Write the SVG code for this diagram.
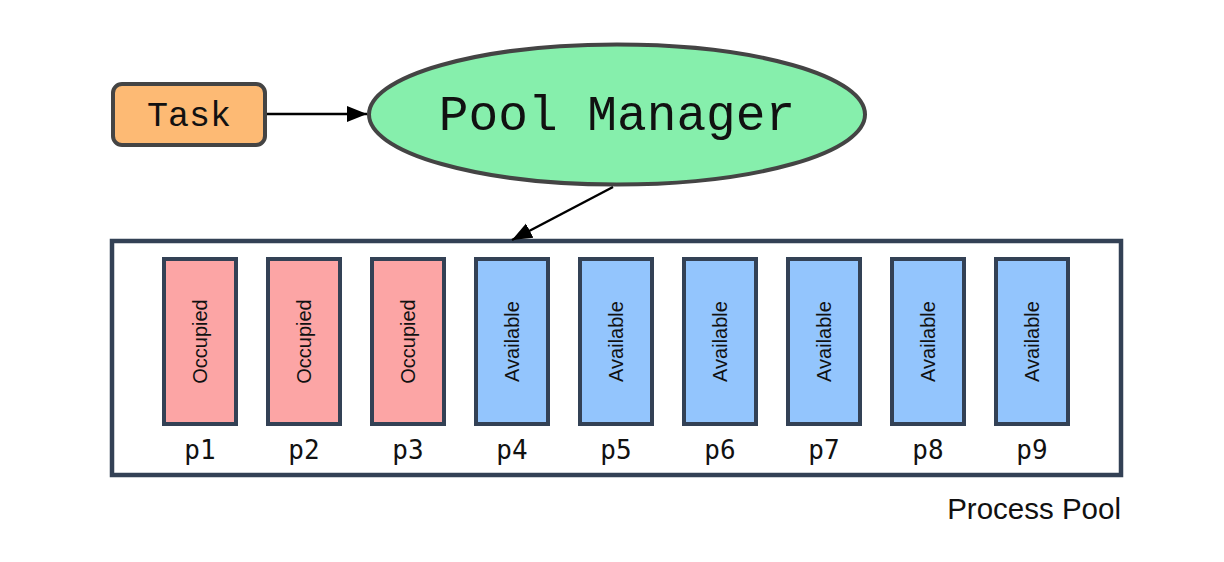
<svg xmlns="http://www.w3.org/2000/svg" width="1224" height="562" viewBox="0 0 1224 562">
<style>
.mono{font-family:"Liberation Mono","DejaVu Sans Mono",monospace;fill:#111;text-anchor:middle}
.lbl{font-family:"DejaVu Sans Mono","Liberation Mono",monospace;font-size:26px;fill:#111;text-anchor:middle}
.vt{font-family:"Liberation Sans",Arial,sans-serif;font-size:20px;fill:#111;text-anchor:middle}
.proc{stroke:#334155;stroke-width:4}
.occ{fill:#FCA5A5}
.avl{fill:#93C5FD}
.conn{stroke:#000;stroke-width:2.5;fill:none}
</style>
<defs>
<marker id="arr" markerUnits="userSpaceOnUse" markerWidth="20" markerHeight="18" refX="20" refY="8" orient="auto" viewBox="0 0 20 16">
<path d="M0,0 L20,8 L0,16 z" fill="#000"/>
</marker>
</defs>
<rect width="1224" height="562" fill="#fff"/>
<g id="pool">
<rect x="112" y="241" width="1009" height="234" fill="#fff" stroke="#334155" stroke-width="4.5"/>
<text x="1121" y="519" font-family="Liberation Sans,Arial,sans-serif" font-size="29.5" text-anchor="end" fill="#111">Process Pool</text>
</g>
<g id="task">
<rect x="113" y="84" width="152" height="61" rx="9" fill="#FDBA74" stroke="#444" stroke-width="4"/>
<text class="mono" x="189" y="126" font-size="35">Task</text>
</g>
<g id="manager">
<ellipse cx="617" cy="114.5" rx="248" ry="70" fill="#86EFAC" stroke="#444" stroke-width="4"/>
<text class="mono" x="617" y="130" font-size="49.5">Pool Manager</text>
</g>
<g id="connectors">
<line class="conn" x1="267" y1="114" x2="367" y2="114" marker-end="url(#arr)"/>
<line class="conn" x1="613" y1="187" x2="512" y2="240" marker-end="url(#arr)"/>
</g>
<g id="p1"><rect class="proc occ" x="164" y="259" width="72" height="165"/><text class="vt" x="200" y="348.5" transform="rotate(-90 200 341.5)">Occupied</text><text class="lbl" x="200" y="459">p1</text></g>
<g id="p2"><rect class="proc occ" x="268" y="259" width="72" height="165"/><text class="vt" x="304" y="348.5" transform="rotate(-90 304 341.5)">Occupied</text><text class="lbl" x="304" y="459">p2</text></g>
<g id="p3"><rect class="proc occ" x="372" y="259" width="72" height="165"/><text class="vt" x="408" y="348.5" transform="rotate(-90 408 341.5)">Occupied</text><text class="lbl" x="408" y="459">p3</text></g>
<g id="p4"><rect class="proc avl" x="476" y="259" width="72" height="165"/><text class="vt" x="512" y="348.5" transform="rotate(-90 512 341.5)">Available</text><text class="lbl" x="512" y="459">p4</text></g>
<g id="p5"><rect class="proc avl" x="580" y="259" width="72" height="165"/><text class="vt" x="616" y="348.5" transform="rotate(-90 616 341.5)">Available</text><text class="lbl" x="616" y="459">p5</text></g>
<g id="p6"><rect class="proc avl" x="684" y="259" width="72" height="165"/><text class="vt" x="720" y="348.5" transform="rotate(-90 720 341.5)">Available</text><text class="lbl" x="720" y="459">p6</text></g>
<g id="p7"><rect class="proc avl" x="788" y="259" width="72" height="165"/><text class="vt" x="824" y="348.5" transform="rotate(-90 824 341.5)">Available</text><text class="lbl" x="824" y="459">p7</text></g>
<g id="p8"><rect class="proc avl" x="892" y="259" width="72" height="165"/><text class="vt" x="928" y="348.5" transform="rotate(-90 928 341.5)">Available</text><text class="lbl" x="928" y="459">p8</text></g>
<g id="p9"><rect class="proc avl" x="996" y="259" width="72" height="165"/><text class="vt" x="1032" y="348.5" transform="rotate(-90 1032 341.5)">Available</text><text class="lbl" x="1032" y="459">p9</text></g>
</svg>
